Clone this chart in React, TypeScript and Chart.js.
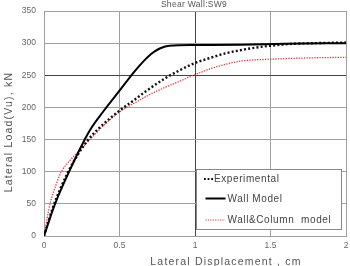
import React, { useEffect, useRef } from "react";
import { Chart, registerables } from "chart.js";

Chart.register(...registerables);

// Lateral displacement (cm) vs lateral load (kN) for shear wall SW9
const experimentalX = [0, 0.06, 0.15, 0.22, 0.29, 0.37, 0.5, 0.6, 0.68, 0.8, 0.9, 1.0, 1.1, 1.2, 1.3, 1.4, 1.5, 1.65, 1.8, 2.0];
const experimentalY = [0, 45, 95, 125, 149, 169, 195, 212, 226, 245, 258, 269, 277, 284, 289, 293, 296, 299, 300, 301];

const wallModelX = [0, 0.07, 0.16, 0.3, 0.4, 0.5, 0.6, 0.66, 0.72, 0.77, 0.83, 1.0, 1.3, 1.6, 2.0];
const wallModelY = [0, 48, 97, 163, 196, 226, 256, 272, 285, 292, 296, 297, 297.5, 299, 300];

const wallColumnX = [0, 0.04, 0.08, 0.113, 0.17, 0.235, 0.3, 0.4, 0.5, 0.6, 0.7, 0.8, 0.9, 1.0, 1.1, 1.2, 1.3, 1.5, 1.75, 2.0];
const wallColumnY = [0, 50, 80, 99, 117, 133, 149, 173, 193, 207, 220, 231, 241, 251, 260, 267, 272, 275, 277, 278];

const xTicks = [0, 0.5, 1, 1.5, 2];
const yTicks = [0, 50, 100, 150, 200, 250, 300, 350];

const chartTitle = "Shear Wall:SW9";
const xTitle = "Lateral Displacement , cm";
const yTitle = "Lateral Load(Vu), kN";
const seriesNames = ["Experimental", "Wall Model", "Wall&Column  model"];

const FONT = "'Liberation Sans', Arial, sans-serif";
const RED = "#f0343c";

const toPoints = (xs: number[], ys: number[]) => xs.map((x, i) => ({ x, y: ys[i] }));

// Title, axis titles and the boxed legend are painted directly on the canvas
const annotations = {
  id: "annotations",
  afterDraw(chart: any) {
    const { ctx } = chart;
    ctx.save();
    ctx.textBaseline = "middle";

    // title
    ctx.fillStyle = "#555";
    ctx.font = `8.5px ${FONT}`;
    ctx.textAlign = "center";
    (ctx as any).letterSpacing = "0.3px";
    ctx.fillText(chartTitle, 194, 4.5);

    // x-axis title
    ctx.fillStyle = "#555";
    ctx.font = `10.5px ${FONT}`;
    (ctx as any).letterSpacing = "1.2px";
    ctx.fillText(xTitle, 226, 262);

    // y-axis title
    ctx.save();
    ctx.translate(9, 132);
    ctx.rotate(-Math.PI / 2);
    ctx.fillText(yTitle, 0, 0);
    ctx.restore();

    // legend box
    (ctx as any).letterSpacing = "0.6px";
    const bx = 196, by = 169, bw = 145, bh = 60;
    ctx.fillStyle = "#fff";
    ctx.fillRect(bx, by, bw, bh);
    ctx.strokeStyle = "#888";
    ctx.lineWidth = 1;
    ctx.strokeRect(bx + 0.5, by + 0.5, bw, bh);

    const rows = [
      { y: 179, x0: 204, x1: 213, tx: 214, color: "#111", width: 2.2, dash: [1.8, 1.8] },
      { y: 198.5, x0: 205.5, x1: 225.5, tx: 227.5, color: "#000", width: 2, dash: [] as number[] },
      { y: 220, x0: 205.5, x1: 225, tx: 227.5, color: RED, width: 1.2, dash: [1.2, 1.2] },
    ];
    ctx.font = `10px ${FONT}`;
    ctx.textAlign = "left";
    rows.forEach((r, i) => {
      ctx.beginPath();
      ctx.setLineDash(r.dash);
      ctx.strokeStyle = r.color;
      ctx.lineWidth = r.width;
      ctx.moveTo(r.x0, r.y);
      ctx.lineTo(r.x1, r.y);
      ctx.stroke();
      ctx.setLineDash([]);
      ctx.fillStyle = "#444";
      ctx.fillText(seriesNames[i], r.tx, r.y + 0.5);
    });
    ctx.restore();
  },
};

export default function App() {
  const canvasRef = useRef<HTMLCanvasElement | null>(null);

  useEffect(() => {
    const canvas = canvasRef.current;
    if (!canvas) return;
    const chart = new Chart(canvas, {
      type: "line",
      data: {
        datasets: [
          {
            label: seriesNames[0],
            data: toPoints(experimentalX, experimentalY),
            borderColor: "#111",
            borderWidth: 2.4,
            borderDash: [2, 2.2],
            pointRadius: 0,
            cubicInterpolationMode: "monotone",
            order: 2,
          },
          {
            label: seriesNames[1],
            data: toPoints(wallModelX, wallModelY),
            borderColor: "#000",
            borderWidth: 2,
            pointRadius: 0,
            cubicInterpolationMode: "monotone",
            order: 1,
          },
          {
            label: seriesNames[2],
            data: toPoints(wallColumnX, wallColumnY),
            borderColor: RED,
            borderWidth: 1.3,
            borderDash: [1.3, 1.3],
            pointRadius: 0,
            cubicInterpolationMode: "monotone",
            order: 3,
          },
        ],
      },
      options: {
        animation: false,
        responsive: false,
        layout: { padding: { top: 11, right: 4, left: 0, bottom: 0 } },
        plugins: { legend: { display: false }, title: { display: false }, tooltip: { enabled: false } },
        scales: {
          x: {
            type: "linear",
            min: 0,
            max: 2,
            afterBuildTicks: (s: any) => {
              s.ticks = xTicks.map((v) => ({ value: v }));
            },
            afterFit: (s: any) => {
              s.height = 30;
              s.paddingLeft = 0;
              s.paddingRight = 0;
            },
            ticks: {
              color: "#666",
              font: { family: FONT, size: 8.5 },
              padding: 5,
              maxRotation: 0,
              callback: (v: any) => String(v),
            },
            grid: {
              color: (c: any) => (c.tick && c.tick.value === 1 ? "#444" : "#a0a0a0"),
              lineWidth: 1,
              drawTicks: false,
            },
            border: { color: "#a0a0a0", width: 1 },
          },
          y: {
            type: "linear",
            min: 0,
            max: 350,
            afterBuildTicks: (s: any) => {
              s.ticks = yTicks.map((v) => ({ value: v }));
            },
            afterFit: (s: any) => {
              s.width = 44;
              s.paddingTop = 0;
              s.paddingBottom = 0;
            },
            ticks: {
              color: "#666",
              font: { family: FONT, size: 8.5 },
              padding: 8,
            },
            grid: {
              color: (c: any) => (c.tick && c.tick.value === 250 ? "#444" : "#a0a0a0"),
              lineWidth: 1,
              drawTicks: false,
            },
            border: { color: "#a0a0a0", width: 1 },
          },
        },
      },
      plugins: [annotations],
    });
    return () => chart.destroy();
  }, []);

  return (
    <div style={{ position: "fixed", left: 0, top: 0, width: 350, height: 266, background: "#fff" }}>
      <canvas ref={canvasRef} width={350} height={266} />
    </div>
  );
}
